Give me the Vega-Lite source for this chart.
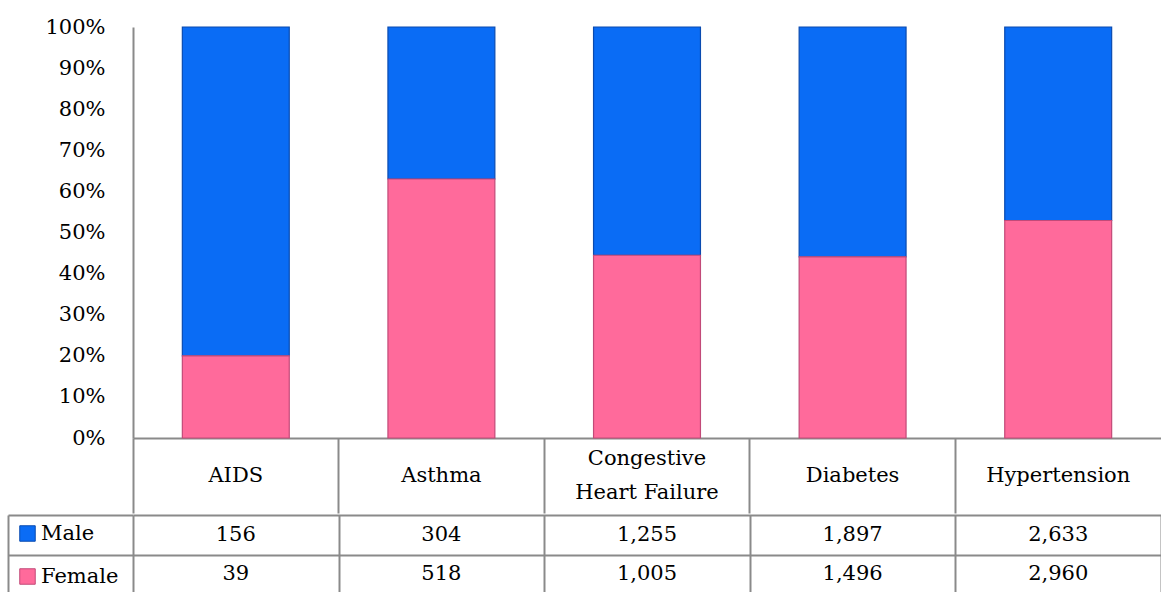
{
  "$schema": "https://vega.github.io/schema/vega-lite/v6.json",
  "padding": {"left": 7, "top": 16, "right": 0, "bottom": 0},
  "background": "white",
  "config": {
    "font": "DejaVu Serif",
    "view": {"stroke": null},
    "legend": {"padding": 0}
  },
  "datasets": {
    "d": [
      {"disease": "AIDS", "sex": "Male", "count": 156},
      {"disease": "AIDS", "sex": "Female", "count": 39},
      {"disease": "Asthma", "sex": "Male", "count": 304},
      {"disease": "Asthma", "sex": "Female", "count": 518},
      {"disease": "Congestive Heart Failure", "sex": "Male", "count": 1255},
      {"disease": "Congestive Heart Failure", "sex": "Female", "count": 1005},
      {"disease": "Diabetes", "sex": "Male", "count": 1897},
      {"disease": "Diabetes", "sex": "Female", "count": 1496},
      {"disease": "Hypertension", "sex": "Male", "count": 2633},
      {"disease": "Hypertension", "sex": "Female", "count": 2960}
    ]
  },
  "spacing": 0,
  "vconcat": [
    {
      "width": 1028,
      "height": 411,
      "data": {"name": "d"},
      "mark": {"type": "bar", "width": {"band": 0.52}, "strokeWidth": 1.2},
      "encoding": {
        "x": {
          "field": "disease", "type": "nominal",
          "sort": ["AIDS", "Asthma", "Congestive Heart Failure", "Diabetes", "Hypertension"],
          "scale": {"paddingInner": 0, "paddingOuter": 0},
          "axis": {
            "title": null, "bandPosition": 0,
            "labelAngle": 0, "labelAlign": "center", "labelBaseline": "middle",
            "labelFontSize": 21, "labelColor": "black",
            "labelPadding": {"condition": {"test": "datum.value == 'Congestive Heart Failure'", "value": -55}, "value": -38},
            "labelLineHeight": 34, "labelOverlap": false, "labelBound": false, "labelLimit": 0,
            "labelExpr": "datum.value == 'Congestive Heart Failure' ? ['Congestive', 'Heart Failure'] : datum.value",
            "ticks": true, "tickSize": 75, "tickColor": "#8a8a8a", "tickWidth": 2,
            "domainColor": "#8a8a8a", "domainWidth": 2
          }
        },
        "y": {
          "field": "count", "type": "quantitative", "stack": "normalize",
          "scale": {"domain": [0, 1]},
          "axis": {
            "title": null, "format": ".0%", "values": [0, 0.1, 0.2, 0.3, 0.4, 0.5, 0.6, 0.7, 0.8, 0.9, 1],
            "grid": false, "ticks": false, "labelPadding": 28, "labelFontSize": 21, "labelColor": "black",
            "domainColor": "#8a8a8a", "domainWidth": 2
          }
        },
        "color": {
          "field": "sex", "type": "nominal",
          "scale": {"domain": ["Male", "Female"], "range": ["#0A6CF5", "#FF6A9B"]},
          "legend": {
            "title": null, "orient": "none", "legendX": -116, "legendY": 496,
            "symbolType": "square", "symbolSize": 240, "symbolStrokeWidth": 1,
            "symbolStrokeColor": "#555", "labelFontSize": 21, "labelColor": "black",
            "labelOffset": 3, "rowPadding": 21, "direction": "vertical"
          }
        },
        "stroke": {
          "field": "sex", "type": "nominal",
          "scale": {"domain": ["Male", "Female"], "range": ["#0A4BB0", "#C24A78"]},
          "legend": null
        },
        "order": {"field": "sex", "sort": "ascending"}
      }
    },
    {
      "width": 1028,
      "height": 79,
      "data": {"name": "d"},
      "mark": {"type": "text", "fontSize": 21, "color": "black"},
      "encoding": {
        "x": {
          "field": "disease", "type": "nominal",
          "sort": ["AIDS", "Asthma", "Congestive Heart Failure", "Diabetes", "Hypertension"],
          "scale": {"paddingInner": 0, "paddingOuter": 0},
          "axis": {"title": null, "labels": false, "ticks": false, "domain": false,
                   "grid": true, "tickBand": "extent", "gridColor": "#8a8a8a", "gridWidth": 2}
        },
        "y": {
          "field": "sex", "type": "nominal", "sort": ["Male", "Female"],
          "scale": {"paddingInner": 0, "paddingOuter": 0},
          "axis": {"title": null, "labels": false, "grid": true, "tickBand": "extent",
                   "gridColor": "#8a8a8a", "gridWidth": 2,
                   "ticks": true, "tickSize": -125, "tickColor": "#8a8a8a", "tickWidth": 2,
                   "domain": true, "domainColor": "#8a8a8a", "domainWidth": 2, "offset": 125}
        },
        "text": {"field": "count", "type": "quantitative", "format": ","}
      }
    }
  ]
}
